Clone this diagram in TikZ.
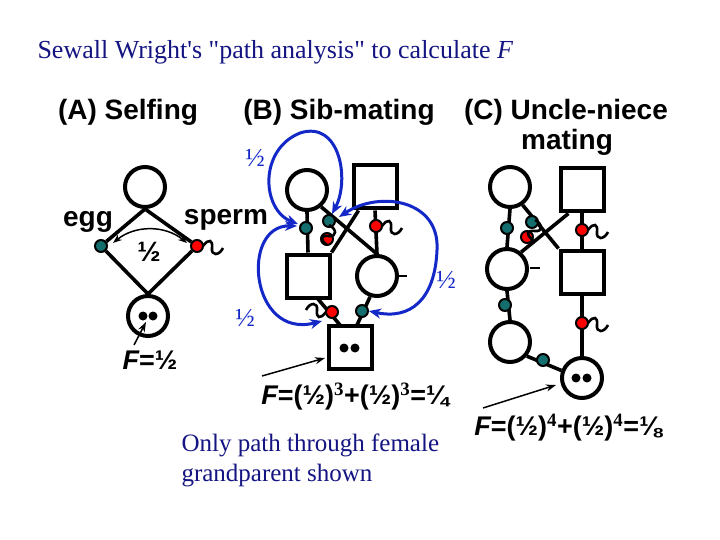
\documentclass[tikz,border=0pt]{standalone}
\usepackage{fontspec}
\setmainfont{Liberation Serif}
\newfontfamily\hd{Liberation Sans}
\usetikzlibrary{arrows.meta}
\definecolor{navy}{RGB}{20,20,130}
\definecolor{teal2}{RGB}{20,110,110}
\definecolor{blu}{RGB}{20,40,200}
\tikzset{
 ln/.style={line width=3.6pt},
 ind/.style={draw,line width=4pt,inner sep=0pt,fill=white},
 fem/.style={ind,circle,minimum size=40pt},
 mal/.style={ind,rectangle,minimum size=43pt},
 eggd/.style={circle,draw,line width=2pt,fill=teal2,minimum size=12pt,inner sep=0pt},
 spd/.style={circle,draw,line width=2pt,fill=red,minimum size=12pt,inner sep=0pt},
 dbl/.style={draw=blu,line width=3pt,{Stealth[length=12pt,width=10pt]}-{Stealth[length=12pt,width=10pt]}},
 pt/.style={-{Stealth[length=10pt,width=7pt]},line width=1.5pt},
 hdt/.style={font=\hd\bfseries\fontsize{28}{30}\selectfont},
 fm/.style={font=\hd\bfseries\fontsize{27}{29}\selectfont},
 sq/.pic={\draw[line width=2.6pt] (0,0) .. controls (6,-8) and (10,-6) .. (9,2) .. controls (8,10) and (16,10) .. (20,2);}
}
\begin{document}
\begin{tikzpicture}[x=1pt,y=-1pt]
\path[use as bounding box,fill=white] (0,0) rectangle (720,540);
\node[anchor=west,text=navy,font=\fontsize{26}{28}\selectfont] (title) at (34,52) {Sewall Wright\textquotesingle s \textquotedbl path analysis\textquotedbl{} to calculate \textit{F}};
\node[hdt] (ha) at (128,112) {(A) Selfing};
\node[hdt] (hb) at (339,112) {(B) Sib-mating};
\node[hdt] (hc) at (566,112) {(C) Uncle-niece};
\node[hdt] (hc2) at (567,142) {mating};

% (A)
\node[fem] (a1) at (145,187) {};
\node[fem] (a2) at (148,316) {};
\fill (143,316) circle (4.5pt) (153,316) circle (4.5pt);
\node[eggd] (ae) at (101,246) {};
\node[spd] (as) at (197,246) {};
\draw[ln] (a1.south) -- (ae) -- (a2.north) -- (as) -- (a1.south);
\pic at (203,246) {sq};
\draw[line width=1.5pt,{Stealth[length=9pt]}-{Stealth[length=9pt]}] (113,243) .. controls (135,225) and (165,225) .. (187,243);
\node[hdt] (hf) at (149,252) {½};
\node[hdt] (egg) at (88,222) {egg};
\node[hdt] (sp) at (226,220) {sperm};
\node[fm] (fa) at (150,360) {\itshape F\upshape=½};
\draw[pt] (134,345) -- (146,322);

% (B)
\node[fem] (b1) at (307,190) {};
\node[mal] (b2) at (375,187) {};
\node[mal] (b3) at (308,276) {};
\node[fem] (b4) at (377,276) {};
\node[mal] (b5) at (350,347) {};
\fill (344,348) circle (4.5pt) (355,348) circle (4.5pt);
\draw[ln] (b1.south) -- (b3.north);
\draw[ln] (b1.-50) -- (b4.north);
\draw[ln] (b2.-125) -- (b3.north east);
\draw[ln] (b2.south) -- (b4.north);
\draw[ln] (318,299) -- (340,325);
\draw[ln] (370,297) -- (357,325);
\node[eggd] (be1) at (306,228) {};
\node[eggd] (be2) at (329,221) {};
\node[spd] (bs1) at (327,239) {};
\node[spd] (bs2) at (376,226) {};
\node[spd] (bs3) at (332,312) {};
\node[eggd] (be3) at (362,311) {};
\pic at (382,226) {sq};
\pic[rotate=90] at (327,245) {sq};
\pic[rotate=180] at (326,312) {sq};
\draw[line width=2.6pt] (399,276) -- (407,276);
\draw[dbl] (298,224) .. controls (262,210) and (258,150) .. (300,133) .. controls (340,120) and (350,180) .. (332,214);
\draw[dbl] (297,226) .. controls (240,225) and (250,340) .. (322,321);
\draw[dbl] (339,217) .. controls (380,190) and (440,200) .. (437,250) .. controls (435,300) and (410,320) .. (369,311);
\node[text=blu,font=\fontsize{26}{28}\selectfont] (l1) at (255,158) {½};
\node[text=blu,font=\fontsize{26}{28}\selectfont] (l2) at (245,318) {½};
\node[text=blu,font=\fontsize{26}{28}\selectfont] (l3) at (446,280) {½};
\node[fm] (fb) at (355,397) {\itshape F\upshape=(½)$^{\mathbf 3}$+(½)$^{\mathbf 3}$=¼};
\draw[pt] (262,376) -- (325,358);

% (C)
\node[fem] (c1) at (510,187) {};
\node[mal] (c2) at (582,190) {};
\node[fem] (c3) at (507,269) {};
\node[mal] (c4) at (582,272) {};
\node[fem] (c5) at (510,342) {};
\node[fem] (c6) at (582,378) {};
\fill (576,378) circle (4.5pt) (587,378) circle (4.5pt);
\draw[ln] (c1.south) -- (c3.north);
\draw[ln] (c1.-55) -- (c4.north west);
\draw[ln] (c2.-120) -- (c3.50);
\draw[ln] (c2.south) -- (c4.north);
\draw[ln] (c3.south) -- (c5.north);
\draw[ln] (c4.south) -- (c6.north);
\draw[ln] (c5.-40) -- (c6.160);
\node[eggd] (ce1) at (507,228) {};
\node[eggd] (ce2) at (532,222) {};
\node[spd] (cs1) at (527,237) {};
\node[spd] (cs2) at (582,230) {};
\node[eggd] (ce3) at (505,305) {};
\node[spd] (cs3) at (582,323) {};
\node[eggd] (ce4) at (543,360) {};
\pic at (588,230) {sq};
\pic at (588,323) {sq};
\pic[rotate=90] at (533,240) {sq};
\draw[line width=2.6pt] (530,268) -- (540,268);
\node[fm] (fc) at (568,428) {\itshape F\upshape=(½)$^{\mathbf 4}$+(½)$^{\mathbf 4}$=⅛};
\draw[pt] (483,408) -- (556,385);

\node[anchor=north west,align=left,text=navy,font=\fontsize{25}{30}\selectfont] (note) at (178,430) {Only path through female\\grandparent shown};
\end{tikzpicture}
\end{document}
